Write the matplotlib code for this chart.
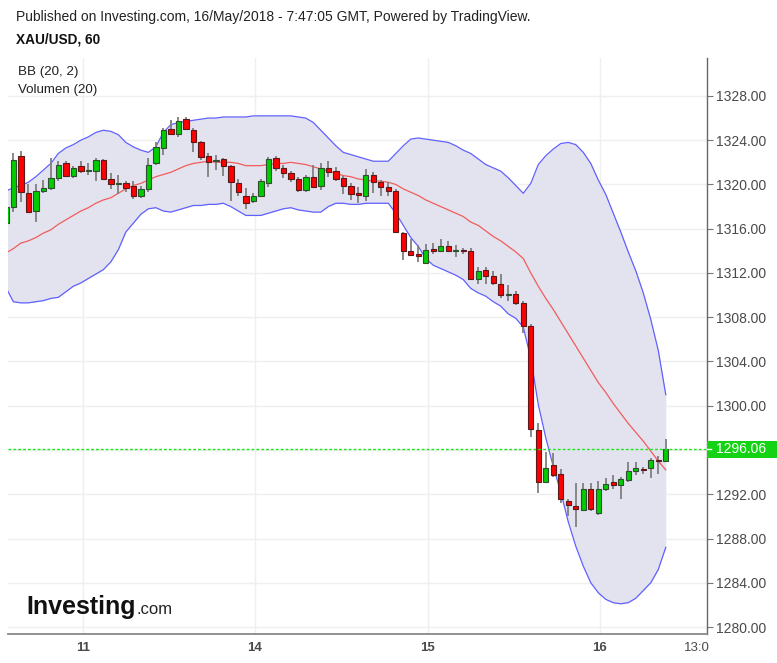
import matplotlib
matplotlib.use("Agg")
import matplotlib.pyplot as plt
from matplotlib.patches import Rectangle
from matplotlib.lines import Line2D
import matplotlib.transforms as mtransforms
import numpy as np

plt.rcParams['font.family'] = ['Liberation Sans', 'DejaVu Sans']

# ---------------- data (XAU/USD, 60 min candles) ----------------
opens = [1316.5, 1318.0, 1322.6, 1319.2, 1317.6, 1319.4, 1319.7, 1320.6, 1321.9, 1320.8,
         1321.7, 1321.2, 1321.2, 1322.2, 1320.5, 1320.0, 1320.1, 1319.9, 1319.0, 1319.6,
         1321.9, 1323.3, 1325.0, 1324.6, 1325.9, 1324.9, 1323.8, 1322.6, 1322.1, 1322.3,
         1321.7, 1320.1, 1319.0, 1318.5, 1319.0, 1320.1, 1322.4, 1321.5, 1321.0, 1320.5,
         1319.5, 1320.7, 1319.9, 1321.5, 1321.2, 1320.6, 1319.9, 1319.2, 1319.0, 1320.9,
         1320.2, 1319.8, 1319.4, 1315.6, 1314.0, 1313.7, 1312.9, 1314.2, 1314.0, 1314.4,
         1314.0, 1314.1, 1314.0, 1311.5, 1312.3, 1311.7, 1311.0, 1310.0, 1310.1, 1309.3,
         1307.2, 1297.8, 1293.1, 1294.6, 1293.8, 1291.4, 1290.9, 1290.6, 1292.5, 1290.3,
         1292.5, 1293.1, 1292.8, 1293.3, 1294.1, 1294.3, 1294.4, 1295.1, 1295.0]
highs = [1318.4, 1322.8, 1323.0, 1320.0, 1320.0, 1320.4, 1322.4, 1322.1, 1322.1, 1321.7,
         1322.1, 1321.9, 1322.4, 1322.3, 1321.0, 1320.9, 1320.3, 1320.3, 1319.9, 1322.4,
         1323.8, 1325.1, 1325.8, 1326.1, 1326.1, 1325.1, 1323.9, 1322.8, 1322.7, 1322.4,
         1321.8, 1320.5, 1319.7, 1319.2, 1320.5, 1322.5, 1322.6, 1321.8, 1321.2, 1320.7,
         1320.9, 1321.8, 1321.9, 1322.1, 1321.6, 1320.8, 1320.1, 1319.8, 1321.4, 1321.1,
         1320.4, 1320.2, 1319.6, 1315.7, 1315.1, 1314.5, 1314.6, 1314.7, 1315.1, 1314.9,
         1314.5, 1314.3, 1314.3, 1312.5, 1312.5, 1312.2, 1311.9, 1310.9, 1310.4, 1309.5,
         1307.4, 1298.4, 1295.8, 1295.7, 1294.3, 1291.6, 1293.0, 1293.0, 1293.0, 1293.2,
         1293.5, 1293.7, 1293.6, 1294.9, 1294.9, 1294.5, 1295.3, 1295.5, 1297.0]
lows = [1316.0, 1317.5, 1318.4, 1317.4, 1316.6, 1319.2, 1319.5, 1320.3, 1320.7, 1320.6,
        1321.0, 1320.9, 1320.3, 1320.5, 1319.6, 1319.1, 1319.3, 1318.7, 1318.8, 1319.3,
        1321.8, 1322.7, 1324.5, 1324.3, 1324.9, 1322.9, 1322.2, 1320.7, 1321.3, 1320.8,
        1318.5, 1319.0, 1317.8, 1318.3, 1318.9, 1319.8, 1321.2, 1320.6, 1320.2, 1319.3,
        1319.3, 1319.7, 1319.5, 1320.7, 1320.3, 1319.1, 1318.6, 1318.3, 1318.5, 1319.2,
        1319.0, 1319.0, 1315.6, 1313.2, 1313.5, 1313.0, 1312.8, 1313.7, 1313.9, 1313.9,
        1313.4, 1313.7, 1311.4, 1311.0, 1311.0, 1310.9, 1309.7, 1309.5, 1309.1, 1306.6,
        1297.2, 1292.1, 1293.0, 1293.6, 1291.2, 1290.0, 1289.0, 1290.5, 1290.5, 1290.1,
        1292.3, 1292.5, 1291.6, 1293.1, 1293.7, 1293.8, 1293.5, 1293.8, 1294.9]
closes = [1318.0, 1322.2, 1319.3, 1317.5, 1319.4, 1319.7, 1320.6, 1321.8, 1320.8, 1321.5,
          1321.2, 1321.3, 1322.2, 1320.5, 1320.0, 1320.05, 1319.7, 1319.0, 1319.6, 1321.8,
          1323.4, 1324.9, 1324.6, 1325.7, 1325.0, 1323.8, 1322.5, 1322.0, 1322.2, 1321.7,
          1320.2, 1319.3, 1318.3, 1319.0, 1320.3, 1322.3, 1321.5, 1321.0, 1320.5, 1319.5,
          1320.7, 1319.8, 1321.5, 1321.1, 1320.5, 1319.9, 1319.1, 1319.05, 1320.9, 1320.2,
          1319.8, 1319.4, 1315.7, 1314.0, 1313.6, 1313.5, 1314.1, 1314.0, 1314.4, 1314.0,
          1314.1, 1314.0, 1311.5, 1312.2, 1311.7, 1311.1, 1310.0, 1310.1, 1309.3, 1307.2,
          1297.9, 1293.1, 1294.4, 1293.7, 1291.6, 1291.0, 1290.7, 1292.5, 1290.7, 1292.5,
          1292.9, 1292.8, 1293.4, 1294.1, 1294.4, 1294.2, 1295.1, 1295.0, 1296.06]

# Bollinger Bands (20, 2), read per candle
bb_upper = [1319.4, 1319.7, 1319.9, 1320.2, 1320.7, 1321.3, 1321.9, 1322.8, 1323.3, 1323.6,
            1324.0, 1324.3, 1324.7, 1324.9, 1324.8, 1324.5, 1323.8, 1323.4, 1323.1, 1322.9,
            1323.4, 1324.7, 1325.4, 1325.6, 1325.7, 1325.8, 1325.9, 1326.0, 1326.0, 1326.1,
            1326.1, 1326.1, 1326.1, 1326.2, 1326.2, 1326.2, 1326.2, 1326.2, 1326.2, 1326.1,
            1326.0, 1325.6, 1324.9, 1324.2, 1323.5, 1322.9, 1322.7, 1322.5, 1322.3, 1322.1,
            1322.1, 1322.1, 1322.8, 1323.5, 1324.1, 1324.2, 1324.1, 1324.0, 1323.9, 1323.8,
            1323.5, 1323.1, 1322.8, 1322.3, 1321.8, 1321.5, 1321.2, 1320.6, 1319.9, 1319.2,
            1320.1, 1321.8, 1322.6, 1323.2, 1323.7, 1323.8, 1323.6, 1322.9, 1321.9, 1320.4,
            1319.1, 1317.4, 1315.7, 1313.9, 1312.2, 1310.2, 1307.8, 1305.0, 1301.0]
bb_middle = [1313.8, 1314.2, 1314.7, 1314.9, 1315.2, 1315.6, 1315.9, 1316.4, 1316.8, 1317.2,
             1317.6, 1317.9, 1318.3, 1318.6, 1318.8, 1319.2, 1319.6, 1319.9, 1320.1, 1320.4,
             1320.7, 1320.9, 1321.1, 1321.4, 1321.7, 1321.9, 1322.0, 1322.1, 1322.0, 1322.0,
             1322.0, 1321.9, 1321.7, 1321.7, 1321.7, 1321.8, 1321.9, 1321.9, 1322.0, 1321.9,
             1321.8, 1321.6, 1321.4, 1321.2, 1321.0, 1320.8, 1320.7, 1320.5, 1320.4, 1320.3,
             1320.3, 1320.2, 1320.0, 1319.6, 1319.3, 1319.0, 1318.6, 1318.3, 1318.0, 1317.7,
             1317.4, 1317.1, 1316.6, 1316.3, 1315.8, 1315.3, 1314.9, 1314.4, 1313.9, 1313.3,
             1312.0, 1310.8, 1309.7, 1308.7, 1307.6, 1306.5, 1305.4, 1304.3, 1303.2, 1302.1,
             1301.2, 1300.2, 1299.3, 1298.4, 1297.6, 1296.8, 1295.9, 1295.0, 1294.2]
bb_lower = [1310.7, 1309.4, 1309.3, 1309.3, 1309.4, 1309.5, 1309.7, 1309.8, 1310.3, 1310.8,
            1311.1, 1311.5, 1311.9, 1312.3, 1313.0, 1314.1, 1315.7, 1316.5, 1317.3, 1317.8,
            1317.9, 1317.6, 1317.5, 1317.7, 1317.9, 1318.1, 1318.1, 1318.2, 1318.2, 1318.3,
            1318.0, 1317.6, 1317.2, 1317.2, 1317.2, 1317.4, 1317.6, 1317.8, 1317.9, 1317.7,
            1317.6, 1317.5, 1317.5, 1318.0, 1318.3, 1318.3, 1318.2, 1318.2, 1318.3, 1318.3,
            1318.3, 1318.3, 1317.4, 1316.3, 1315.2, 1314.4, 1313.3, 1312.7, 1312.4, 1312.1,
            1311.8, 1311.4, 1310.6, 1310.2, 1309.9, 1309.4, 1309.0, 1308.3, 1307.9, 1307.1,
            1304.3, 1300.1, 1297.1, 1294.5, 1292.2, 1289.5, 1287.3, 1285.5, 1284.0, 1283.1,
            1282.5, 1282.2, 1282.1, 1282.2, 1282.6, 1283.3, 1284.0, 1285.2, 1287.2]

last_price = 1296.06
day_tick_pos = [10.25, 33.2, 56.25, 79.2]
day_tick_labels = ['11', '14', '15', '16']
time_tick_pos = 92.1
time_tick_label = '13:0'
price_ticks = [1280, 1284, 1288, 1292, 1296, 1300, 1304, 1308, 1312, 1316, 1320, 1324, 1328]

# ---------------- figure ----------------
W, H = 777, 663
fig = plt.figure(figsize=(W / 100, H / 100), dpi=100)
fig.patch.set_facecolor('white')
ax = fig.add_axes([8 / W, 1 - 634 / H, (706.5 - 8) / W, (634 - 58) / H])
ax.set_facecolor('white')

idx = np.arange(len(closes))

# grid
for p in price_ticks:
    ax.axhline(p, color='#efefef', lw=1.0, zorder=0)
for x in day_tick_pos:
    ax.axvline(x, color='#efefef', lw=1.0, zorder=0)

# Bollinger bands
ax.fill_between(idx, bb_lower, bb_upper, color='#e3e3ef', lw=0, zorder=0.5)
ax.plot(idx, bb_upper, color='#6060ff', lw=0.9, zorder=1)
ax.plot(idx, bb_lower, color='#6060ff', lw=0.9, zorder=1)
ax.plot(idx, bb_middle, color='#f25c5c', lw=0.9, zorder=1)

# candles
for i, o, h, l, c in zip(idx, opens, highs, lows, closes):
    up = c >= o
    ax.vlines(i, l, h, color='#808080', lw=1.3, zorder=2)
    bottom = min(o, c)
    height = max(abs(c - o), 0.12)
    ax.bar(i, height, bottom=bottom, width=0.72,
           color='#00cc00' if up else '#ff0000',
           edgecolor='#2f4f2f' if up else '#5a1a1a', lw=0.8, zorder=3)

# last price dashed line
ax.axhline(last_price, color='#1ee61e', lw=1.0, ls=(0, (2.0, 1.5)), zorder=4)

ax.set_xlim(0.29, 93.43)
ax.set_ylim(1279.37, 1331.43)

# axes styling
for s in ['left', 'top']:
    ax.spines[s].set_visible(False)
ax.spines['right'].set_color('#666666')
ax.spines['bottom'].set_color('#888888')
ax.spines['right'].set_linewidth(1.0)
ax.spines['bottom'].set_linewidth(1.3)

ax.yaxis.tick_right()
ax.set_yticks(price_ticks)
# the 1296 label sits under the last-price box, so it is left blank
ax.set_yticklabels(['' if p == 1296 else '%.2f' % p for p in price_ticks])
ax.tick_params(axis='y', length=4, width=0.8, color='#777777', labelsize=10,
               labelcolor='#4a4a4a', pad=3)

ax.set_xticks(day_tick_pos + [time_tick_pos])
ax.set_xticklabels(day_tick_labels + [time_tick_label])
ax.tick_params(axis='x', length=0, labelsize=9.5, labelcolor='#4a4a4a', pad=6)
for lab in ax.get_xticklabels()[:-1]:
    lab.set_fontweight('bold')

# price label box on the axis
blend = mtransforms.blended_transform_factory(fig.transFigure, ax.transData)
fig.add_artist(Rectangle((707 / W, last_price - 0.78), 72 / W, 1.56,
                         transform=blend, facecolor='#14d214', edgecolor='none', zorder=5))
fig.add_artist(Line2D([707 / W, 711 / W], [last_price, last_price], transform=blend,
                      color='white', lw=1.0, zorder=6))
fig.text(741 / W, last_price, '%.2f' % last_price, transform=blend, color='white',
         fontsize=10, ha='center', va='center', zorder=6)

# header texts
fig.text(16 / W, 1 - 17 / H,
         'Published on Investing.com, 16/May/2018 - 7:47:05 GMT, Powered by TradingView.',
         fontsize=10, color='#222222', ha='left', va='center')
fig.text(16 / W, 1 - 40 / H, 'XAU/USD, 60', fontsize=9.8, fontweight='bold',
         color='#111111', ha='left', va='center')
fig.text(18 / W, 1 - 72 / H, 'BB (20, 2)', fontsize=9.6, color='#222222',
         ha='left', va='center')
fig.text(18 / W, 1 - 90 / H, 'Volumen (20)', fontsize=9.6, color='#222222',
         ha='left', va='center')

# Investing.com logo
fig.text(26 / W, 1 - 614 / H, 'Investing', fontsize=18, fontweight='bold',
         color='#111111', ha='left', va='baseline')
fig.text(136 / W, 1 - 614 / H, '.com', fontsize=12, color='#222222',
         ha='left', va='baseline')

fig.savefig('out.png', dpi=100, facecolor='white')
